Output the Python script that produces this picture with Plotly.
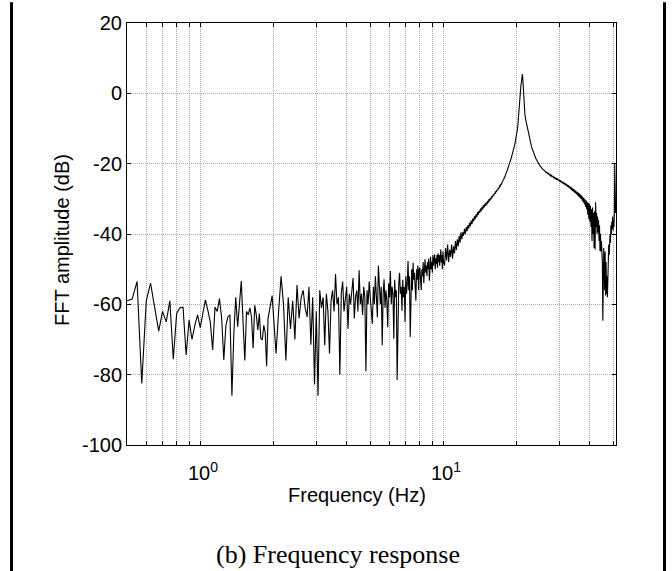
import numpy as np
import plotly.graph_objects as go

# ---- data: FFT amplitude (dB) on uniform frequency grids (start Hz, step Hz) ----
f0_a, df_a = 0.5, 0.025
amp_a = [-59, -58.5, -53.5, -82.5, -59, -54, -61, -67.6, -62, -65,
         -59, -75.6, -62.6, -61, -60.8, -74.4, -64.5, -70, -66, -63,
         -66.6, -62.8, -58.7, -61.7, -65, -73, -60.8, -62, -58.4, -64,
         -75.8, -66, -63.6, -63, -86, -68, -58, -66.4, -60, -53.4,
         -65, -76, -62, -63, -61, -63.6, -72.5, -60.3, -63, -67.3,
         -62.6, -69.7, -70.1, -66, -68, -77.6, -64, -62, -60, -57.5,
         -63]

f0_b, df_b = 2.05, 0.05
amp_b = [-74, -62, -52, -60, -76, -58, -67, -59, -70, -54.5,
         -64, -58, -56, -61, -63.6, -55, -71.5, -58, -82.8, -62,
         -86, -56, -61, -58, -71.6, -57, -62, -74, -59, -56,
         -62, -51.4, -60, -58, -80, -57, -53.5, -62, -58, -55,
         -67, -57, -60, -55, -52.5, -64, -58, -56, -62, -50.3,
         -60, -57, -63, -55, -58, -79, -56, -60, -53.5, -58,
         -62, -65.5, -55, -60, -52, -58, -63.7, -49, -57, -60,
         -55, -71.6, -57, -52.9, -61, -56, -59, -66.5, -54, -58,
         -50.5, -60, -55, -57, -69.8, -53, -58, -56, -81.5, -60,
         -54, -51, -57, -55, -61.8, -53, -58, -55, -65, -52,
         -57, -54, -47.7, -56, -52, -69.3, -54, -50, -56, -48.2,
         -53, -51, -55, -59, -50, -53, -49, -56, -50, -49.6,
         -53, -56, -50, -52, -48, -54, -50, -47.2, -51, -49,
         -52, -48, -50, -47, -53.3, -48, -46.5, -50, -48, -51,
         -46, -49, -47, -45.8, -50, -47, -48.5, -46, -49.6, -45.5,
         -48, -46, -49, -45, -44.4, -48, -46, -50, -45, -47.7]

f0_d, df_d = 10.1, 0.1
amp_d = [-49, -44, -47.5, -43, -48, -44.5, -46.5, -43, -47, -43.5,
         -45.5, -42, -44.5, -41.5, -43.5, -40.5, -42.5, -39.5, -41.5, -39.5,
         -40.5, -38.5, -40, -38, -39.2, -37.5, -38.5, -36.8, -37.8, -36.2,
         -37.2, -35.6, -36.4, -35, -35.8, -34.5, -35.2, -33.8, -34.6, -33.4,
         -34, -32.8, -33.5, -32.3, -33, -31.8, -32.4, -31.4, -32, -31,
         -31.6, -30.6, -31.1, -30.1, -30.6, -29.7, -30.1, -29.2, -29.6, -28.8,
         -29.1, -28.3, -28.6, -27.8, -28.1, -27.4, -27.6, -26.9, -27.1, -26.4,
         -26.5, -25.9, -25.9, -25.3, -25.2, -24.6, -24.5, -23.9, -23.7, -23.1,
         -22.8, -22.3, -21.9, -21.3, -20.9, -20.4, -19.9, -19.4, -18.9, -18.4,
         -17.8, -17.3, -16.7, -16.1, -15.4, -14.8, -14.1, -13.4, -12.6, -11.8,
         -10.5, -9.5, -7, -4.5, -3, -1.5, 0.5, 2, 3, 4.5,
         5.5, 4, 0.5, -2.5, -4.5]

f0_f, df_f = 21.6, 0.2
amp_f = [-5.7, -7.6, -9.0, -10.3, -11.6, -12.9, -14.1, -15.1, -15.9, -16.7,
         -17.3, -17.9, -18.6, -19.0, -19.6, -19.9, -20.4, -20.7, -21.1, -21.2,
         -21.6, -21.7, -22.0, -22.1, -22.5, -22.4, -22.8, -22.7, -23.2, -23.0,
         -23.5, -23.3, -23.8, -23.5, -24.1, -23.8, -24.4, -24.0, -24.6, -24.2,
         -24.8, -24.5, -25.1, -24.7, -25.3, -25.0, -25.6, -25.2, -25.8, -25.4,
         -26.1, -25.6, -26.3, -25.9, -26.6, -26.1, -26.8, -26.4, -27.2, -26.6,
         -27.5, -26.9, -27.8, -27.2, -28.1, -27.4, -28.4, -27.7, -28.7, -28.0,
         -29.0, -28.2, -29.4, -28.5, -29.7, -28.8, -30.0, -29.1, -30.5, -29.5,
         -31.0, -29.8, -31.6, -30.2, -32.3, -30.5, -33.0, -30.8, -34.5, -31.2,
         -35.8, -31.5, -36.5, -32.0, -38.0, -33.0, -42.0, -32.5, -40.0, -34.0,
         -44.0, -33.5, -44.4, -31.0, -38.0, -34.0, -40.0, -35.0, -39.5, -36.0,
         -42.0, -37.5, -44.8, -40.0, -45.0, -42.0, -44.0, -48.0, -64.7, -46.0,
         -44.0, -50.0, -56.0, -45.0, -57.5, -48.0, -57.0, -52.0, -58.0, -47.0,
         -50.0, -43.0, -46.0, -42.0, -40.0, -42.5, -37.5, -40.0, -36.5, -38.5,
         -35.0, -39.0, -36.0, -38.0, -34.5, -20.0, -32.0, -34.0, -33.0]

x_grid = [0.6, 0.7, 0.8, 0.9, 1, 2, 3, 4, 5, 6, 7, 8, 9, 10, 20, 30, 40, 50]
x_major = [1, 10]
x_major_labels = ["10<sup>0</sup>", "10<sup>1</sup>"]
y_ticks = [-100, -80, -60, -40, -20, 0, 20]
y_labels = ["-100", "-80", "-60", "-40", "-20", "0", "20"]
x_min, x_max = 0.5, 51.2

# ---- build series ----
freq, amp = [], []
for f0, df, a in [(f0_a, df_a, amp_a), (f0_b, df_b, amp_b),
                  (f0_d, df_d, amp_d), (f0_f, df_f, amp_f)]:
    freq.extend(np.round(f0 + df * np.arange(len(a)), 4).tolist())
    amp.extend(a)

# ---- geometry (pixels) ----
W, H = 672, 571
L, R, T, B = 127, 616, 19, 445
pw, ph = R - L, B - T

def px(x):
    return (x - L) / pw

def py(y):
    return (B - y) / ph

FONT = "Liberation Sans, Arial, Helvetica, sans-serif"
GRID = "#a8a8a8"

fig = go.Figure()
fig.add_trace(go.Scatter(x=freq, y=amp, mode="lines",
                         line=dict(color="black", width=1.1), showlegend=False,
                         hoverinfo="skip"))

fig.update_layout(
    width=W, height=H,
    margin=dict(l=L, r=W - R, t=T, b=H - B, pad=0),
    paper_bgcolor="white", plot_bgcolor="white",
    font=dict(family=FONT, size=20, color="black"),
    xaxis=dict(type="log", range=[np.log10(x_min), np.log10(x_max)],
               tickmode="array", tickvals=x_grid, showticklabels=False,
               ticks="inside", ticklen=4, tickcolor="black", tickwidth=1,
               showgrid=True, gridcolor=GRID, gridwidth=1, griddash="1px,1px",
               showline=True, linecolor="black", linewidth=1, mirror="ticks",
               zeroline=False),
    yaxis=dict(range=[-100, 20], tickmode="array", tickvals=y_ticks,
               ticktext=y_labels, ticks="inside", ticklen=4,
               tickcolor="black", tickwidth=1,
               showgrid=True, gridcolor=GRID, gridwidth=1, griddash="1px,1px",
               showline=True, linecolor="black", linewidth=1, mirror="ticks",
               zeroline=False, tickfont=dict(size=20)),
)

annotations = []
for v, t in zip(x_major, x_major_labels):
    annotations.append(dict(x=np.log10(v), xref="x", y=py(472), yref="paper",
                            text=t, showarrow=False, xanchor="center",
                            yanchor="middle", xshift=3,
                            font=dict(family=FONT, size=20, color="black")))
annotations.append(dict(x=px(357), y=py(495), xref="paper", yref="paper",
                        text="Frequency (Hz)", showarrow=False,
                        xanchor="center", yanchor="middle",
                        font=dict(family=FONT, size=20, color="black")))
annotations.append(dict(x=px(62), y=py(238), xref="paper", yref="paper",
                        text="FFT amplitude (dB)", showarrow=False,
                        textangle=-90, xanchor="center", yanchor="middle",
                        font=dict(family=FONT, size=20, color="black")))
annotations.append(dict(x=px(338), y=py(556), xref="paper", yref="paper",
                        text="(b) Frequency response", showarrow=False,
                        xanchor="center", yanchor="middle",
                        font=dict(family="Liberation Serif, Times New Roman, serif",
                                  size=26, color="black")))
fig.update_layout(annotations=annotations)

# frame lines at the left and right of the figure
for xpix in (11.5, 664.5):
    fig.add_shape(type="line", xref="paper", yref="paper",
                  x0=px(xpix), x1=px(xpix), y0=py(-2), y1=py(H + 2),
                  line=dict(color="black", width=3), layer="above")

fig.write_html("out.html")
